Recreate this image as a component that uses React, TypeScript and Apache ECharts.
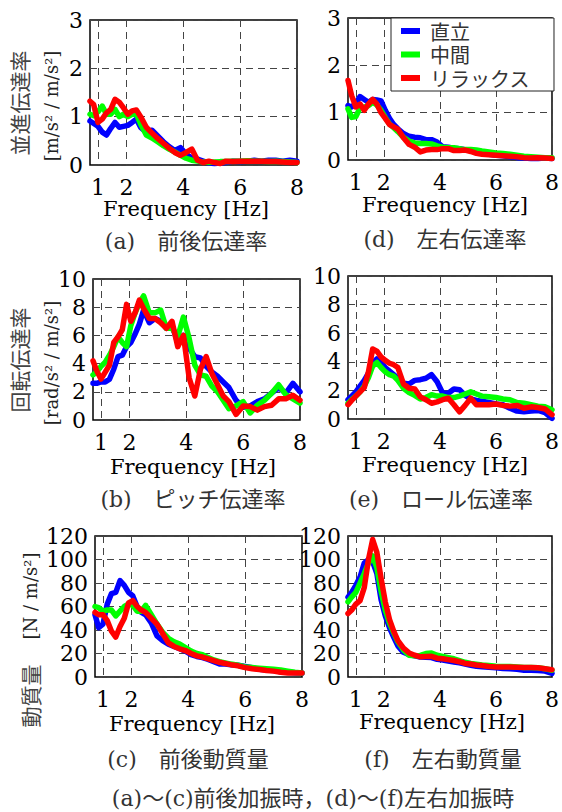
import React, { useEffect, useRef } from "react";
import * as echarts from "echarts";

const FREQ = [0.72, 0.85, 1.0, 1.15, 1.3, 1.45, 1.6, 1.75, 1.9, 2.05, 2.2, 2.35, 2.5, 2.7, 2.9, 3.1, 3.3, 3.5, 3.7, 3.9, 4.1, 4.3, 4.5, 4.7, 4.9, 5.1, 5.3, 5.5, 5.75, 6.0, 6.25, 6.5, 6.75, 7.0, 7.25, 7.5, 7.75, 8.0];
const X_TICKS = [1, 2, 4, 6, 8];
const NAMES = ["直立", "中間", "リラックス"];
const COLORS = ["#0000ff", "#00ff00", "#ff0000"];

// (a) 前後伝達率
const A_BLUE = [0.91, 0.86, 0.8, 0.68, 0.62, 0.76, 0.88, 0.78, 0.8, 0.82, 0.88, 0.95, 0.78, 0.68, 0.72, 0.6, 0.48, 0.38, 0.3, 0.36, 0.22, 0.15, 0.12, 0.08, 0.04, 0.03, 0.04, 0.05, 0.08, 0.07, 0.08, 0.1, 0.08, 0.1, 0.1, 0.08, 0.1, 0.08];
const A_GREEN = [1.05, 1.02, 1.1, 1.22, 1.05, 1.05, 1.15, 1.0, 1.05, 1.0, 1.05, 1.05, 0.85, 0.62, 0.56, 0.48, 0.4, 0.33, 0.27, 0.2, 0.14, 0.1, 0.08, 0.06, 0.05, 0.06, 0.07, 0.07, 0.08, 0.08, 0.09, 0.08, 0.08, 0.07, 0.08, 0.07, 0.06, 0.05];
const A_RED = [1.32, 1.25, 0.88, 0.95, 1.08, 1.15, 1.36, 1.3, 1.18, 1.05, 1.12, 1.14, 1.0, 0.78, 0.66, 0.55, 0.45, 0.35, 0.26, 0.2, 0.26, 0.33, 0.1, 0.05, 0.08, 0.05, 0.03, 0.08, 0.07, 0.08, 0.08, 0.08, 0.08, 0.07, 0.07, 0.06, 0.05, 0.05];

// (b) ピッチ伝達率
const B_BLUE = [2.6, 2.6, 2.7, 2.7, 2.9, 3.6, 4.5, 4.6, 5.2, 5.5, 6.1, 6.8, 7.8, 6.9, 7.2, 7.0, 6.5, 6.7, 5.5, 6.0, 5.1, 4.5, 4.4, 3.8, 3.4, 3.1, 2.7, 2.3, 1.4, 0.9, 1.0, 1.3, 1.5, 1.9, 2.3, 1.9, 2.6, 2.0];
const B_GREEN = [3.2, 3.4, 3.8, 4.1, 4.6, 5.2, 5.9, 5.5, 5.2, 6.7, 7.6, 8.3, 8.8, 7.6, 7.6, 7.8, 6.5, 6.5, 5.9, 7.3, 5.8, 3.9, 3.2, 3.1, 2.4, 2.0, 1.4, 0.8, 1.0, 1.3, 0.5, 1.05, 1.4, 1.9, 2.5, 1.8, 1.5, 1.2];
const B_RED = [4.2, 3.5, 2.9, 3.4, 3.9, 5.5, 5.9, 6.4, 8.2, 7.0, 7.6, 8.5, 7.9, 7.2, 7.2, 6.9, 6.5, 7.0, 5.2, 6.0, 3.0, 1.7, 3.6, 4.5, 3.3, 2.5, 1.7, 1.3, 0.4, 1.0, 0.95, 0.7, 0.95, 1.05, 1.5, 1.5, 1.75, 1.4];

// (c) 前後動質量
const C_BLUE = [53, 42, 45, 62, 71, 72, 82, 78, 72, 69, 60, 55, 53, 46, 35, 31, 28, 26, 24, 22, 19, 17.5, 16.5, 15, 13, 11, 11, 10.5, 10, 9, 8, 6.5, 6, 5.5, 4.5, 4, 3.7, 3.4];
const C_GREEN = [60, 59, 56, 57, 57, 52, 56, 60, 62, 61, 56, 56, 61, 53, 45, 38, 33, 30, 28, 25, 22, 20, 19, 16.5, 14.5, 13, 12, 11, 10, 8.5, 8, 7.5, 7, 6.5, 6, 5, 4, 3.4];
const C_RED = [55, 53, 53, 48, 39, 34, 43, 50, 63, 65, 60, 57, 55, 50, 45, 37, 29, 26, 24, 22.5, 20, 18, 17, 15.5, 14, 12.5, 11.5, 10.5, 9.5, 8, 7, 6.3, 5.5, 5, 4, 3.5, 3.4, 3.4];

// (d) 左右伝達率
const D_BLUE = [1.15, 1.12, 1.2, 1.34, 1.28, 1.22, 1.28, 1.27, 1.25, 1.05, 0.88, 0.75, 0.66, 0.56, 0.5, 0.48, 0.47, 0.43, 0.43, 0.38, 0.28, 0.27, 0.25, 0.24, 0.22, 0.2, 0.18, 0.15, 0.12, 0.1, 0.09, 0.07, 0.05, 0.04, 0.03, 0.03, 0.04, 0.03];
const D_GREEN = [1.08, 0.9, 0.92, 1.1, 1.12, 1.15, 1.22, 1.16, 1.05, 0.9, 0.76, 0.68, 0.6, 0.48, 0.4, 0.36, 0.35, 0.35, 0.34, 0.3, 0.27, 0.26, 0.26, 0.24, 0.22, 0.22, 0.21, 0.19, 0.17, 0.15, 0.14, 0.12, 0.1, 0.08, 0.07, 0.06, 0.05, 0.05];
const D_RED = [1.68, 1.36, 1.12, 1.18, 1.05, 1.18, 1.28, 1.18, 1.0, 0.88, 0.75, 0.7, 0.65, 0.47, 0.33, 0.27, 0.17, 0.21, 0.22, 0.22, 0.24, 0.24, 0.2, 0.2, 0.21, 0.18, 0.14, 0.12, 0.11, 0.1, 0.09, 0.08, 0.07, 0.05, 0.04, 0.05, 0.04, 0.03];

// (e) ロール伝達率
const E_BLUE = [1.35, 1.6, 1.9, 2.3, 2.7, 3.2, 3.9, 4.2, 3.95, 3.6, 3.35, 3.1, 2.85, 2.5, 2.45, 2.7, 2.75, 2.85, 3.1, 2.6, 1.8, 1.8, 2.1, 2.05, 1.65, 1.4, 1.3, 1.25, 1.15, 1.05, 1.0, 0.75, 0.55, 0.5, 0.55, 0.6, 0.45, 0.05];
const E_GREEN = [1.1, 1.35, 1.6, 1.9, 2.3, 2.9, 3.7, 3.95, 3.6, 3.3, 3.1, 3.0, 2.7, 2.15, 1.85, 1.65, 1.4, 1.5, 1.7, 1.6, 1.6, 1.5, 1.5, 1.6, 1.75, 1.9, 1.75, 1.6, 1.55, 1.5, 1.4, 1.35, 1.15, 1.1, 1.0, 0.9, 0.85, 0.65];
const E_RED = [1.0, 1.3, 1.6, 1.9, 2.2, 3.3, 4.9, 4.75, 4.35, 4.1, 3.9, 3.8, 3.6, 2.45, 2.15, 2.1, 1.55, 1.35, 1.1, 1.2, 1.35, 1.45, 1.0, 0.5, 0.95, 1.45, 1.0, 1.0, 1.0, 1.05, 0.95, 0.9, 0.95, 0.75, 0.85, 0.8, 0.7, 0.3];

// (f) 左右動質量
const F_BLUE = [68, 72, 78, 85, 97, 100, 98, 88, 66, 52, 42, 34, 26.5, 21, 19, 18, 17, 16.8, 16.5, 15, 14.5, 13.6, 12.8, 12, 11, 10, 9.2, 8.8, 8.2, 7.8, 7.2, 7, 6.5, 5.8, 5.7, 5.5, 5.0, 3.0];
const F_GREEN = [64, 68, 72, 80, 88, 97, 103, 93, 73, 57, 46, 37.5, 30, 23, 18.5, 18, 18.4, 20, 20.5, 18.5, 17.5, 16.5, 15.5, 14, 12.5, 11.5, 10.8, 10.2, 9.8, 9.2, 9, 9, 8.5, 8, 8, 7.8, 7, 5.8];
const F_RED = [54, 57, 62, 65, 76, 100, 117, 106, 84, 64, 49, 39, 31, 24.5, 20.5, 18.5, 17.2, 17.5, 17.6, 16, 15.6, 14.8, 14, 13, 11.5, 11, 10.2, 9.8, 9, 8.6, 8.5, 8.5, 8.2, 8, 8, 7.8, 7, 6.2];

const SERIF = "'DejaVu Serif', 'Noto Sans CJK JP', serif";
const CJK = "'Noto Sans CJK JP', sans-serif";

const PANELS = [
  { grid: { left: 90, top: 20, width: 207, height: 145 }, yMax: 3, yInt: 1, data: [A_BLUE, A_GREEN, A_RED] },
  { grid: { left: 93, top: 279, width: 207, height: 141 }, yMax: 10, yInt: 2, data: [B_BLUE, B_GREEN, B_RED] },
  { grid: { left: 95, top: 536, width: 207, height: 141 }, yMax: 120, yInt: 20, data: [C_BLUE, C_GREEN, C_RED] },
  { grid: { left: 348, top: 18, width: 206, height: 142 }, yMax: 3, yInt: 1, data: [D_BLUE, D_GREEN, D_RED] },
  { grid: { left: 348, top: 276, width: 206, height: 143 }, yMax: 10, yInt: 2, data: [E_BLUE, E_GREEN, E_RED] },
  { grid: { left: 348, top: 536, width: 206, height: 141 }, yMax: 120, yInt: 20, data: [F_BLUE, F_GREEN, F_RED] },
];

const FREQ_LABELS = [
  [186, 209], [193, 467], [192, 724], [445, 205], [445, 465], [442, 722],
];
const CAPTIONS = [
  { t: "(a)\u3000前後伝達率", x: 186, y: 241 },
  { t: "(b)\u3000ピッチ伝達率", x: 193, y: 499 },
  { t: "(c)\u3000前後動質量", x: 188, y: 759 },
  { t: "(d)\u3000左右伝達率", x: 445, y: 239 },
  { t: "(e)\u3000ロール伝達率", x: 441, y: 499 },
  { t: "(f)\u3000左右動質量", x: 443, y: 759 },
];

function txt(text: string, x: number, y: number, font: string, size: number, fill: string, rotation = 0, lineHeight?: number) {
  return {
    type: "text",
    x,
    y,
    rotation,
    silent: true,
    style: {
      text,
      fontFamily: font,
      fontSize: size,
      lineHeight: lineHeight ?? size,
      fill,
      align: "center",
      verticalAlign: "middle",
      textAlign: "center",
      textVerticalAlign: "middle",
    },
  };
}

export default function App() {
  const ref = useRef<HTMLDivElement>(null);
  useEffect(() => {
    if (!ref.current) return;
    const chart = echarts.init(ref.current, undefined, { renderer: "svg" });
    const grids = PANELS.map((p) => ({
      ...p.grid,
      show: true,
      borderColor: "#000",
      borderWidth: 1.5,
      backgroundColor: "transparent",
    }));
    const dash = { type: [7, 5], color: "#444", width: 1 };
    const xAxes = PANELS.map((_, i) => ({
      gridIndex: i,
      type: "value",
      min: 0.72,
      max: 8,
      axisLine: { show: false },
      axisTick: { show: false, customValues: X_TICKS },
      axisLabel: { customValues: X_TICKS, fontSize: 22, lineHeight: 17, fontFamily: SERIF, color: "#000", margin: 14 },
      splitLine: { show: true, lineStyle: dash },
    }));
    const yAxes = PANELS.map((p, i) => ({
      gridIndex: i,
      type: "value",
      min: 0,
      max: p.yMax,
      interval: p.yInt,
      axisLine: { show: false },
      axisTick: { show: false },
      axisLabel: { fontSize: 22, lineHeight: 18, fontFamily: SERIF, color: "#000", margin: 7 },
      splitLine: { show: true, lineStyle: dash },
    }));
    const series: any[] = [];
    PANELS.forEach((p, i) => {
      p.data.forEach((arr, k) => {
        series.push({
          type: "line",
          name: NAMES[k],
          xAxisIndex: i,
          yAxisIndex: i,
          data: FREQ.map((f, j) => [f, arr[j]]),
          symbol: "none",
          showSymbol: false,
          lineStyle: { color: COLORS[k], width: 5.5, cap: "round", join: "round" },
          itemStyle: { color: COLORS[k] },
          emphasis: { disabled: true },
        });
      });
    });
    const graphic: any[] = [];
    FREQ_LABELS.forEach(([x, y]) => graphic.push(txt("Frequency [Hz]", x, y, SERIF, 21, "#000", 0, 17)));
    CAPTIONS.forEach((c) => graphic.push(txt(c.t, c.x, c.y, SERIF, 22, "#333")));
    graphic.push(txt("(a)～(c)前後加振時，(d)～(f)左右加振時", 313, 798, SERIF, 22, "#333"));
    const R = Math.PI / 2;
    graphic.push(txt("並進伝達率", 19, 103, CJK, 21, "#444", R));
    graphic.push(txt("[m/s² / m/s²]", 51, 106, SERIF, 18, "#222", R));
    graphic.push(txt("回転伝達率", 19, 360, CJK, 21, "#444", R));
    graphic.push(txt("[rad/s² / m/s²]", 51, 363, SERIF, 18, "#222", R));
    graphic.push(txt("動質量", 30, 696, CJK, 21, "#444", R));
    graphic.push(txt("[N / m/s²]", 30, 596, SERIF, 18, "#222", R));

    chart.setOption({
      animation: false,
      backgroundColor: "#fff",
      grid: grids,
      xAxis: xAxes,
      yAxis: yAxes,
      series,
      graphic,
      legend: {
        data: NAMES,
        orient: "vertical",
        left: 391,
        top: 18,
        itemWidth: 19,
        itemHeight: 6,
        itemGap: 3.5,
        icon: "rect",
        padding: [3, 24, 3, 10],
        borderColor: "#222",
        borderWidth: 1,
        borderRadius: 0,
        backgroundColor: "#fff",
        selectedMode: false,
        textStyle: { fontSize: 20, fontFamily: CJK, color: "#333", padding: [0, 0, 0, 5] },
      },
    });
    return () => chart.dispose();
  }, []);
  return (
    <div
      ref={ref}
      style={{ position: "fixed", left: 0, top: 0, width: 562, height: 812, background: "#fff" }}
    />
  );
}
